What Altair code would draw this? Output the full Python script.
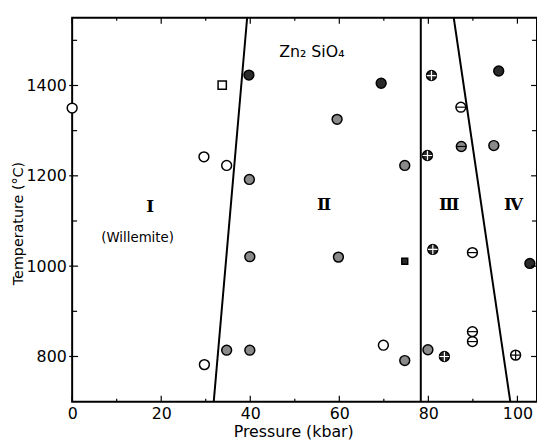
import altair as alt
import pandas as pd

# ---- experimental runs (pressure kbar, temperature °C) ----
run_p = [0, 29.6, 34.7, 29.7, 33.7,
         39.7, 39.8, 39.9, 34.7, 39.9, 59.5, 69.4, 74.7, 59.8, 74.7, 69.9, 74.7,
         80.7, 87.3, 87.4, 79.8, 81.0, 89.9, 79.9, 83.6, 89.9, 89.9,
         95.8, 94.7, 102.8, 99.6]
run_t = [1350, 1242, 1223, 782, 1401,
         1423, 1192, 1021, 814, 814, 1325, 1405, 1223, 1020, 1011, 825, 791,
         1422, 1352, 1265, 1245, 1037, 1030, 815, 800, 855, 833,
         1432, 1267, 1006, 803]
run_fill = ["open", "open", "open", "open", "open",
            "dark", "hatched", "hatched", "hatched", "hatched", "hatched", "dark", "hatched", "hatched", "dark", "open", "hatched",
            "dark", "open", "hatched", "dark", "dark", "open", "hatched", "dark", "open", "open",
            "dark", "hatched", "dark", "open"]
run_marker = ["circle", "circle", "circle", "circle", "square",
              "circle", "circle", "circle", "circle", "circle", "circle", "circle", "circle", "circle", "small", "circle", "circle",
              "circle", "circle", "circle", "circle", "circle", "circle", "circle", "circle", "circle", "circle",
              "circle", "circle", "circle", "circle"]
run_inner = ["", "", "", "", "",
             "", "", "", "", "", "", "", "", "", "", "", "",
             "cross", "bar", "bar", "cross", "cross", "bar", "", "cross", "bar", "bar",
             "", "", "", "cross"]

# ---- phase boundaries ----
bnd_id = ["I-II", "I-II", "II-III", "II-III", "III-IV", "III-IV"]
bnd_p = [31.8, 39.3, 78.3, 78.3, 98.4, 85.7]
bnd_t = [700, 1550, 700, 1550, 700, 1550]

# ---- labels ----
roman_text = ["Ⅰ", "Ⅱ", "Ⅲ", "Ⅳ"]
roman_p = [17.5, 56.6, 84.7, 99.1]
roman_t = [1130, 1135, 1135, 1135]
note_text = ["(Willemite)", "Zn₂ SiO₄"]
note_p = [14.7, 46.5]
note_t = [1063, 1474]
note_align = ["center", "left"]

# ---- tick values ----
x_major = [0, 20, 40, 60, 80, 100]
x_minor = [10, 30, 50, 70, 90]
y_major = [800, 1000, 1200, 1400]
y_minor = [900, 1100, 1300, 1500]

W, H = 471, 389
FONT = "DejaVu Sans"
xs = alt.Scale(domain=[0, 104.4], nice=False, zero=False)
ys = alt.Scale(domain=[700, 1550], nice=False, zero=False)

runs = pd.DataFrame({"p": run_p, "t": run_t, "fill": run_fill,
                     "marker": run_marker, "inner": run_inner})
bnd = pd.DataFrame({"id": bnd_id, "p": bnd_p, "t": bnd_t})
roman = pd.DataFrame({"text": roman_text, "p": roman_p, "t": roman_t})
notes = pd.DataFrame({"text": note_text, "p": note_p, "t": note_t, "align": note_align})

x_axis = alt.Axis(values=x_major, ticks=False, domain=False, grid=False, format="d",
                  labelFont=FONT, labelFontSize=16, labelColor="black", labelPadding=4,
                  labelFlush=False,
                  title="Pressure (kbar)", titleFont=FONT, titleFontSize=16,
                  titleFontWeight="normal", titleColor="black",
                  titleX=224, titleY=30, titleAlign="center", titleBaseline="middle")
y_axis = alt.Axis(values=y_major, ticks=False, domain=False, grid=False, format="d",
                  labelFont=FONT, labelFontSize=16, labelColor="black", labelPadding=6,
                  labelFlush=False,
                  title="Temperature (°C)", titleFont=FONT, titleFontSize=14.5,
                  titleFontWeight="normal", titleColor="black",
                  titleX=-54, titleY=208, titleAlign="center", titleBaseline="middle")


def X(field):
    return alt.X(field, scale=xs, axis=x_axis)


def Y(field):
    return alt.Y(field, scale=ys, axis=y_axis)


fill_scale = alt.Scale(domain=["open", "hatched", "dark"], range=["white", "#8a8a8a", "#2a2a2a"])
inner_stroke = alt.Scale(domain=["open", "hatched", "dark"], range=["black", "black", "white"])


def markers(marker, shape, size):
    return alt.Chart(runs).transform_filter(f"datum.marker == '{marker}'").mark_point(
        filled=True, stroke="black", strokeWidth=1.5, opacity=1, shape=shape, size=size).encode(
        x=X("p:Q"), y=Y("t:Q"),
        fill=alt.Fill("fill:N", scale=fill_scale, legend=None),
    )


def inner(kind, path):
    return alt.Chart(runs).transform_filter(f"datum.inner == '{kind}'").mark_point(
        filled=False, strokeWidth=1.2, opacity=1, size=95, shape=path).encode(
        x=X("p:Q"), y=Y("t:Q"),
        stroke=alt.Stroke("fill:N", scale=inner_stroke, legend=None),
    )


lines = alt.Chart(bnd).mark_line(color="black", strokeWidth=2).encode(
    x=X("p:Q"), y=Y("t:Q"), detail="id:N",
)

roman_layer = alt.Chart(roman).mark_text(font="DejaVu Serif", fontSize=17, fontWeight="bold",
                                         color="black", baseline="middle", align="center").encode(
    x=X("p:Q"), y=Y("t:Q"), text="text:N",
)

notes_c = alt.Chart(notes).transform_filter("datum.align == 'center'").mark_text(
    font=FONT, fontSize=13.5, color="black", baseline="middle", align="center").encode(
    x=X("p:Q"), y=Y("t:Q"), text="text:N")
notes_l = alt.Chart(notes).transform_filter("datum.align == 'left'").mark_text(
    font=FONT, fontSize=16, color="black", baseline="middle", align="left").encode(
    x=X("p:Q"), y=Y("t:Q"), text="text:N")


def xticks(vals, y0, y1):
    return alt.Chart(pd.DataFrame({"p": vals})).mark_rule(color="black", strokeWidth=1.2).encode(
        x=X("p:Q"), y=alt.value(y0), y2=alt.value(y1))


def yticks(vals, x0, x1):
    return alt.Chart(pd.DataFrame({"t": vals})).mark_rule(color="black", strokeWidth=1.2).encode(
        y=Y("t:Q"), x=alt.value(x0), x2=alt.value(x1))


ticks = [
    xticks(x_major, H, H - 6), xticks(x_minor, H, H - 3),
    xticks(x_major, 0, 6), xticks(x_minor, 0, 3),
    yticks(y_major, -3, 6), yticks(y_minor, 0, 5),
    yticks(y_major, W, W - 6), yticks(y_minor, W, W - 5),
]

chart = alt.layer(
    lines,
    markers("circle", "circle", 100), markers("square", "square", 70), markers("small", "square", 36),
    inner("bar", "M-1,0H1"), inner("cross", "M-1,0H1M0,-1V1"),
    roman_layer, notes_c, notes_l, *ticks
).properties(
    width=W, height=H,
    autosize=alt.AutoSizeParams(type="none"),
    padding={"left": 65, "top": 7, "right": 0, "bottom": 37},
    background="white",
).configure_view(stroke="black", strokeWidth=2)

chart.save("out.html", embed_options={"renderer": "svg", "actions": False})
